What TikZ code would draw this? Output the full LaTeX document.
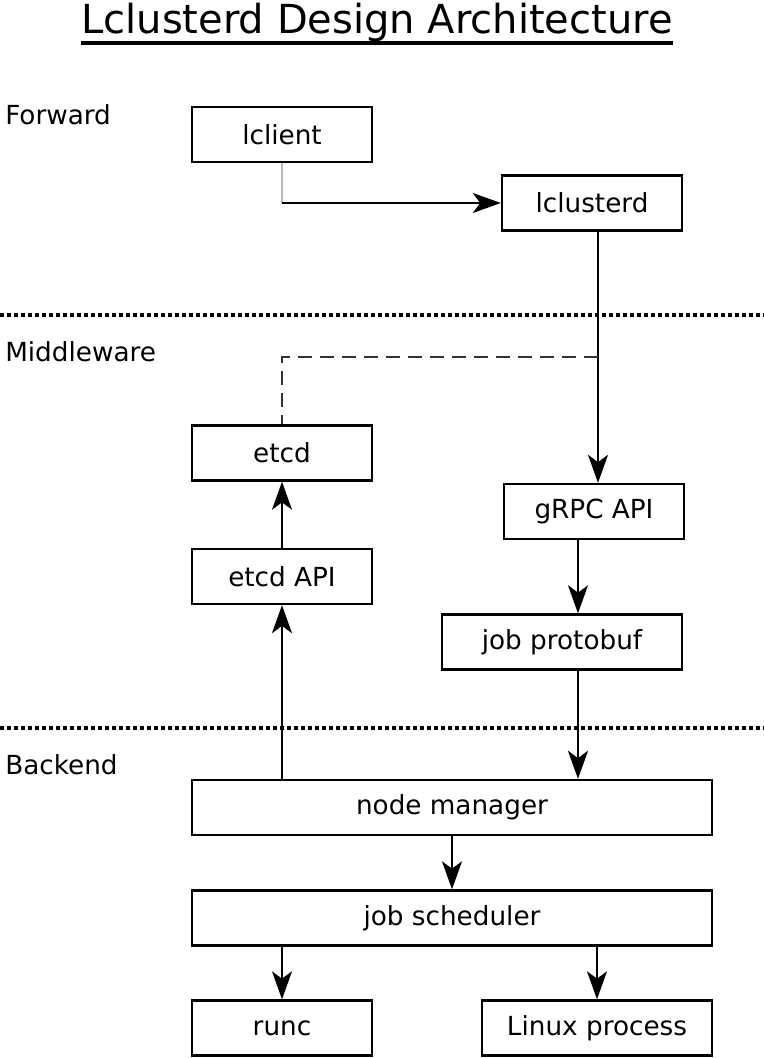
\documentclass[tikz,border=0pt]{standalone}
\usepackage{fontspec}
\setmainfont{DejaVu Sans}
\usetikzlibrary{arrows.meta,calc}

\tikzset{
  box/.style={draw, line width=1.8pt, minimum width=135pt, minimum height=41.25pt, inner sep=0pt,
    font=\fontsize{19.7}{23}\selectfont},
  layer/.style={inner sep=0pt, anchor=base west, font=\fontsize{19.7}{23}\selectfont},
  link/.style={-{Stealth[length=21pt,width=15pt,inset=5.5pt]}, line width=1.3pt},
  divider/.style={line width=2.5pt, dash pattern=on 3pt off 2.25pt},
}

\begin{document}
\begin{tikzpicture}[x=0.75pt, y=-0.75pt]
			\useasboundingbox (0,0) rectangle (764,1058);
			% 标题
			\node[inner sep=0pt, anchor=base, font=\fontsize{30}{34}\selectfont] (title) at (377,33) {Lclusterd Design Architecture};
			\draw[line width=2.4pt] ($(title.base west)+(0,10)$) -- ($(title.base east)+(0,10)$);
			% 分层标签
			\node[layer] (forward) at (5,124) {Forward};
			\node[layer] (middleware) at (5,361) {Middleware};
			\node[layer] (backend) at (5,774) {Backend};
			% 分隔线
			\draw[divider] (0,315) -- (764,315);
			\draw[divider] (0,728) -- (764,728);
			
			% 方框
			\node[box] (lclient) at (282,134.5) {lclient};
			\node[box] (lclusterd) at (592,203) {lclusterd};
			\node[box] (etcd) at (282,453) {etcd};
			\node[box] (etcdapi) at (282,576.5) {etcd API};
			\node[box] (grpc) at (594,511.5) {gRPC API};
			\node[box, minimum width=180pt] (protobuf) at (562,642) {job protobuf};
			\node[box, minimum width=390pt] (nodemgr) at (452,807.5) {node manager};
			\node[box, minimum width=390pt] (scheduler) at (452,918) {job scheduler};
			\node[box] (runc) at (282,1028) {runc};
			\node[box, minimum width=172.5pt] (linux) at (597,1028) {Linux process};
			
			% 连线
			\draw[gray!55, line width=1pt] (lclient.south) -- (lclient.south |- lclusterd.west);
			\draw[link] (lclient.south |- lclusterd.west) -- (lclusterd.west);
			\coordinate (trunk) at ($(lclusterd.south)+(6,0)$);
			\draw[link] (trunk) -- (trunk |- grpc.north);
			\coordinate (tap) at ($(trunk)!0.5!(trunk |- grpc.north)$);
			\draw[black!80, line width=1.3pt, dash pattern=on 10.5pt off 6pt] (tap) -| (etcd.north);
			\draw[link] (etcdapi.north) -- (etcd.south);
			\draw[link] (nodemgr.north -| etcdapi.south) -- (etcdapi.south);
			\coordinate (feed) at ($(grpc.south)!0.5!(protobuf.north)$);
			\draw[link] (grpc.south -| feed) -- (protobuf.north -| feed);
			\draw[link, line width=2.2pt] (protobuf.south -| feed) -- (nodemgr.north -| feed);
			\draw[link] (nodemgr.south) -- (scheduler.north);
			\draw[link] (scheduler.south -| runc.north) -- (runc.north);
			\draw[link] (scheduler.south -| linux.north) -- (linux.north);
		\end{tikzpicture}
\end{document}
